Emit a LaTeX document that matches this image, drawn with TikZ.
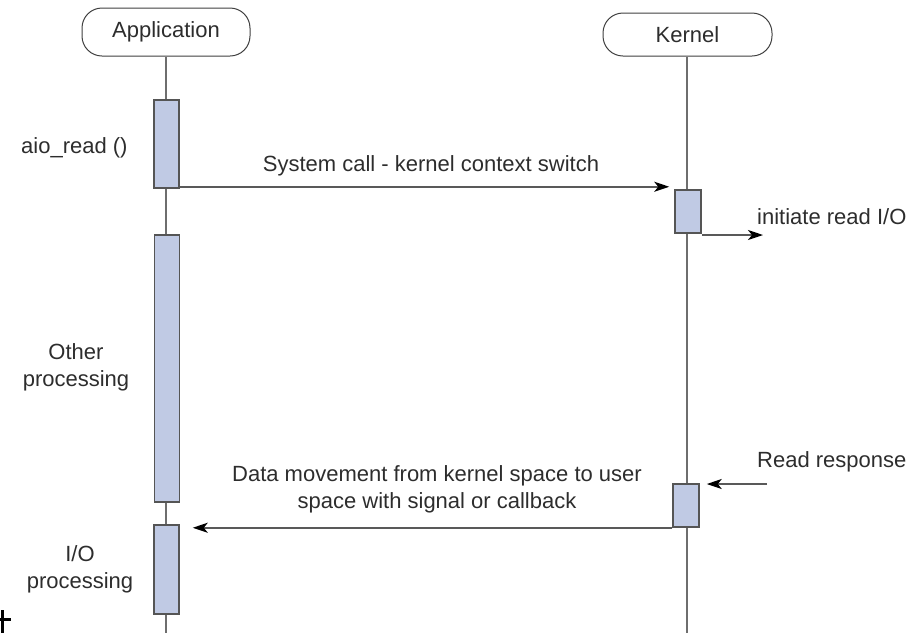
\documentclass[tikz,border=0pt]{standalone}
\usepackage{fontspec}
\setmainfont{Liberation Sans}
\usepackage{tikz}
\usetikzlibrary{positioning, arrows.meta}

\definecolor{lifegray}{RGB}{110,110,110}
\definecolor{actfill}{RGB}{192,202,228}
\definecolor{actdraw}{RGB}{85,85,85}
\definecolor{txtgray}{RGB}{45,45,45}

\tikzset{
    head/.style={draw=black!75, line width=1pt, rounded corners=20pt, fill=white,
        minimum width=168pt, inner sep=0pt, text=txtgray},
    actbox/.style={draw=actdraw, line width=1.5pt, fill=actfill, minimum width=25pt, inner sep=0pt},
    lifeline/.style={draw=lifegray, line width=2pt},
    msg/.style={draw=black!65, line width=2pt, -{Stealth[length=15pt,width=10pt,inset=4pt,black]}},
    lbl/.style={text=txtgray, inner sep=0pt, align=center}
}

\begin{document}
\begin{tikzpicture}[x=1pt, y=-1pt, font=\fontsize{22}{27}\selectfont]
        \useasboundingbox (0,0) rectangle (908,633);

        % heads and lifelines
        \node[head, minimum height=48pt] (appHead) at (166,32) {Application};
        \node[head, minimum height=43pt, minimum width=169pt] (kerHead) at (687.5,34.5) {Kernel};
        \coordinate (appEnd) at (166,633);
        \coordinate (kerEnd) at (687,633);
        \draw[lifeline] (appHead.south) -- (appEnd);
        \draw[lifeline] (kerHead.south -| kerEnd) -- (kerEnd);

        % activation bars
        \node[actbox, minimum height=88pt] (appAct1) at (166.5,144) {};
        \node[actbox, minimum height=267pt] (appAct2) at (167,368.5) {};
        \node[actbox, minimum height=89pt] (appAct3) at (166.5,569.5) {};
        \node[actbox, minimum height=43pt, minimum width=26pt] (kerAct1) at (688,211.5) {};
        \node[actbox, minimum height=43pt, minimum width=26pt] (kerAct2) at (686,505.5) {};

        % messages
        \coordinate (ioOut) at (763,235);
        \coordinate (respIn) at (767,484);
        \draw[msg] ([yshift=2pt]appAct1.south east) -- ([xshift=-5pt,yshift=2pt]appAct1.south east -| kerAct1.west);
        \draw[msg] (ioOut -| kerAct1.east) -- (ioOut);
        \draw[msg] (respIn) -- ([xshift=7pt]respIn -| kerAct2.east);
        \draw[msg] (kerAct2.south west) -- ([xshift=13pt]kerAct2.south west -| appAct3.east);

        % labels
        \node[lbl] (sysLbl) at (431,166) {System call - kernel context switch};
        \node[lbl, anchor=west] (ioLbl) at (757,217) {initiate read I/O};
        \node[lbl, anchor=west] (respLbl) at (757,462) {Read response};
        \node[lbl] (dataLbl) at (437,489) {Data movement from kernel space to user\\space with signal or callback};
        \node[lbl, anchor=west] (aioLbl) at (21,148) {aio\_read ()};
        \node[lbl] (otherLbl) at (76,367) {Other\\processing};
        \node[lbl] (ioprocLbl) at (80,569) {I/O\\processing};

        % stray mark
        \draw[line width=3pt, black] (2,610) -- (2,633);
        \draw[line width=3pt, black] (0,619.5) -- (11,619.5);
\end{tikzpicture}
\end{document}
